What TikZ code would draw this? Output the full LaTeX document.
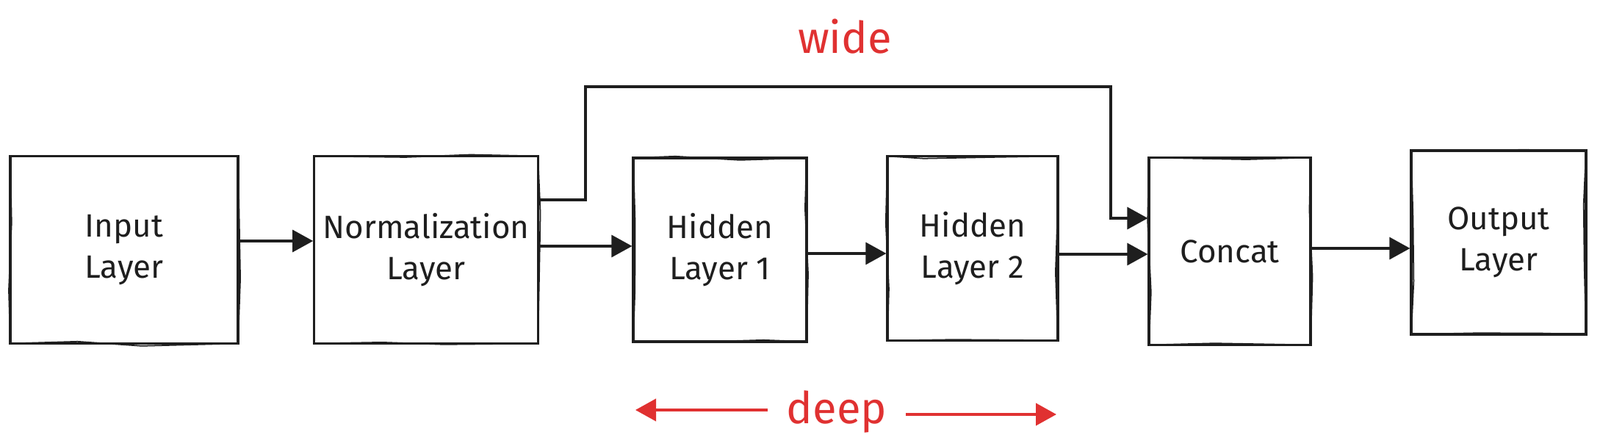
\documentclass[tikz,border=0pt]{standalone}
\usepackage{fontspec}
\setmainfont{Fira Sans}
\usetikzlibrary{positioning, arrows.meta, calc, decorations.pathmorphing}
\definecolor{ink}{HTML}{1E1E1E}
\definecolor{sketchred}{HTML}{E03131}

\begin{document}
\begin{tikzpicture}[
  layer/.style={draw=ink, line width=0.9pt, align=center, text=ink,
    font=\fontsize{12.5}{16}\selectfont,
    postaction={draw=ink, line width=0.5pt, decorate,
      decoration={random steps, segment length=9mm, amplitude=1pt}}},
  arr/.style={draw=ink, line width=0.9pt, -{Triangle[length=2.8mm, width=3mm]}},
  redarr/.style={draw=sketchred, line width=1.1pt, -{Triangle[length=2.8mm, width=3mm]}},
  redtext/.style={text=sketchred, font=\fontsize{17}{20}\selectfont}
]
\useasboundingbox (0,0) rectangle (21.78,6.07);

\node[layer, minimum width=3.10cm, minimum height=2.55cm] (inp) at (1.69,2.67) {Input\\Layer};
\node[layer, minimum width=3.01cm, minimum height=2.55cm] (norm) at (5.80,2.67) {Normalization\\Layer};
\node[layer, minimum width=2.36cm, minimum height=2.50cm] (hid1) at (9.80,2.67) {Hidden\\Layer 1};
\node[layer, minimum width=2.32cm, minimum height=2.51cm] (hid2) at (13.24,2.69) {Hidden\\Layer 2};
\node[layer, minimum width=2.20cm, minimum height=2.55cm] (concat) at (16.74,2.65) {Concat};
\node[layer, minimum width=2.38cm, minimum height=2.50cm] (out) at (20.40,2.77) {Output\\Layer};

\draw[arr] ([yshift=1.2mm]inp.east) -- ([yshift=1.2mm]inp.east -| norm.west);
\draw[arr] ([yshift=0.5mm]norm.east) -- ([yshift=0.5mm]norm.east -| hid1.west);
\draw[arr] ([yshift=-0.5mm]hid1.east) -- ([yshift=-0.5mm]hid1.east -| hid2.west);
\draw[arr] ([yshift=-0.8mm]hid2.east) -- ([yshift=-0.8mm]hid2.east -| concat.west);
\draw[arr] ([yshift=0.4mm]concat.east) -- ([yshift=0.4mm]concat.east -| out.west);

% wide branch over the hidden layers
\coordinate (wideup) at (7.97,4.89);
\coordinate (widedown) at (15.12,4.89);
\draw[arr] ($(norm.east)+(0,0.68)$) -| (wideup) -- (widedown) |- ($(concat.west)+(0,0.45)$);

\node[redtext] (wide) at (11.50,5.57) {wide};

% deep
\node[redtext, inner sep=0.25cm] (deep) at (11.39,0.47) {deep};
\coordinate (deepl) at (8.65,0.49);
\coordinate (deepr) at (14.38,0.43);
\draw[redarr] (deep.west |- deepl) -- (deepl);
\draw[redarr] (deep.east |- deepr) -- (deepr);

\end{tikzpicture}
\end{document}
